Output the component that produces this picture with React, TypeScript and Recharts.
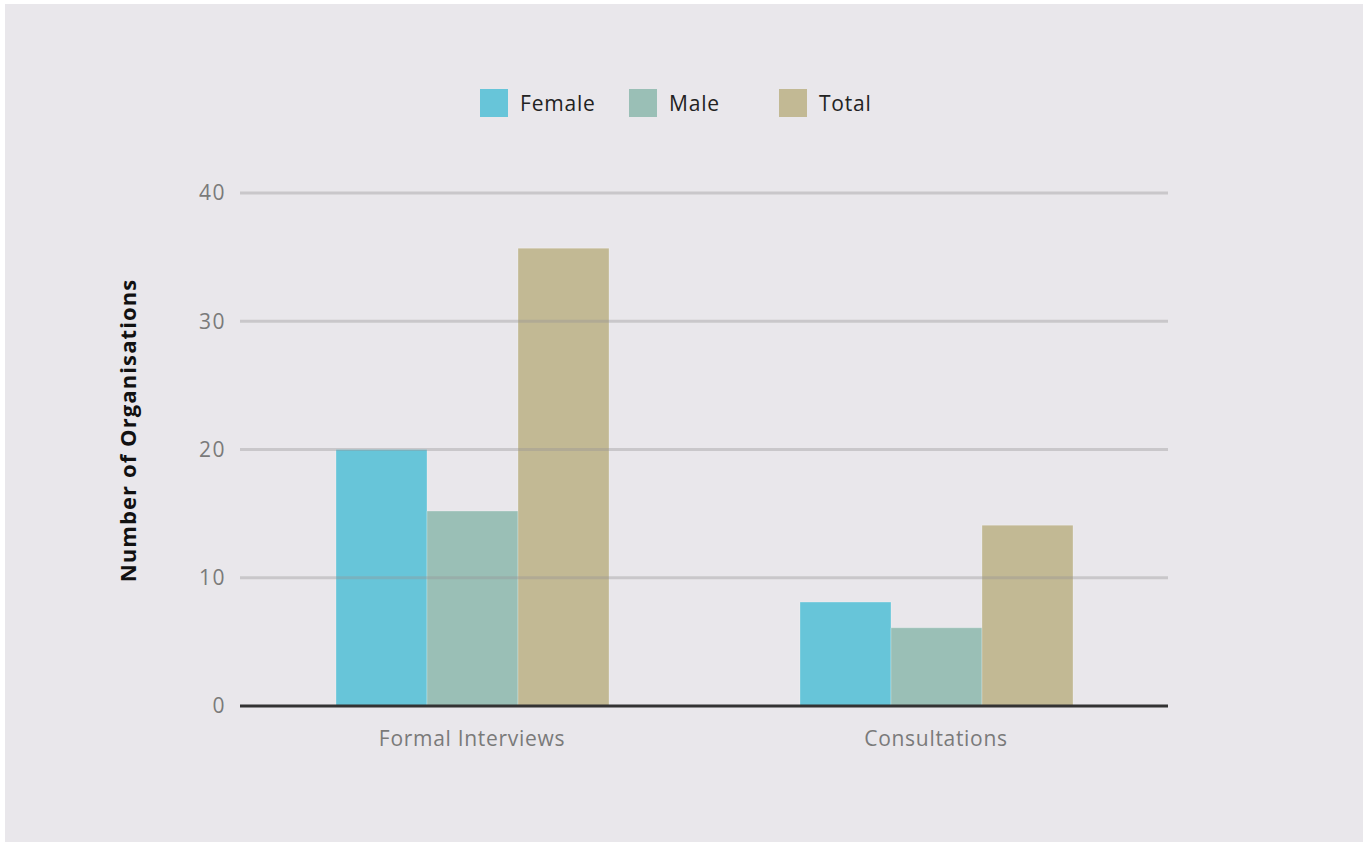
import { BarChart, Bar, XAxis, YAxis, ReferenceLine, Legend } from 'recharts';

const categories = ['Formal Interviews', 'Consultations'];
const female = [20, 8.1];
const male = [15.2, 6.1];
const total = [35.7, 14.1];
const yTicks = [0, 10, 20, 30, 40];
const gridLines = [10, 20, 30, 40];

const series = [
  { key: 'female', name: 'Female', color: '#67c5d9' },
  { key: 'male', name: 'Male', color: '#9abfb6' },
  { key: 'total', name: 'Total', color: '#c2b994' },
];

// legend slots, left edge of each swatch measured from the chart's left
const legendX = [480, 629, 779];

const data = categories.map((name, i) => ({
  name,
  female: female[i],
  male: male[i],
  total: total[i],
}));

function LegendContent() {
  return (
    <div style={{ position: 'relative', height: 28 }}>
      {series.map((s, i) => (
        <div
          key={s.key}
          style={{
            position: 'absolute',
            left: legendX[i],
            top: 0,
            display: 'flex',
            alignItems: 'center',
            gap: 12,
            whiteSpace: 'nowrap',
          }}
        >
          <span style={{ display: 'inline-block', width: 28, height: 28, background: s.color }} />
          <span style={{ fontSize: 21, color: '#222', letterSpacing: 0.8 }}>{s.name}</span>
        </div>
      ))}
    </div>
  );
}

export default function App() {
  return (
    <div
      style={{
        position: 'absolute',
        left: 0,
        top: 0,
        width: 1368,
        height: 842,
        background: '#ffffff',
        fontFamily: '"Open Sans", "Noto Sans", sans-serif',
        overflow: 'hidden',
      }}
    >
      <div
        style={{
          position: 'absolute',
          left: 5,
          top: 4,
          width: 1358,
          height: 845,
          background: '#e9e7eb',
        }}
      />
      <div style={{ position: 'absolute', left: 0, top: 0 }}>
        <BarChart
          width={1368}
          height={842}
          data={data}
          margin={{ top: 165, right: 200, bottom: 96, left: 180 }}
          barCategoryGap={96}
          barGap={0}
        >
          <XAxis
            dataKey="name"
            axisLine={{ stroke: '#333333', strokeWidth: 3 }}
            tickLine={false}
            tick={{ fontSize: 21, fill: '#7a7a7a', letterSpacing: 0.7 }}
            tickMargin={19}
            height={40}
          />
          <YAxis
            domain={[0, 40]}
            ticks={yTicks}
            axisLine={false}
            tickLine={false}
            tick={{ fontSize: 21, fill: '#7a7a7a', letterSpacing: 1.5 }}
            tickMargin={8}
            width={60}
            label={{
              value: 'Number of Organisations',
              angle: -90,
              position: 'insideLeft',
              offset: 0,
              dx: -52,
              dy: -19,
              style: {
                fontSize: 22,
                fontWeight: 700,
                fill: '#111111',
                textAnchor: 'middle',
                letterSpacing: 1.1,
              },
            }}
          />
          <Legend
            verticalAlign="top"
            align="left"
            wrapperStyle={{ top: 89, left: 0, width: 1368 }}
            content={<LegendContent />}
          />
          {series.map((s) => (
            <Bar
              key={s.key}
              dataKey={s.key}
              name={s.name}
              fill={s.color}
              stroke="rgba(255,255,255,0.25)"
              strokeWidth={1}
              isAnimationActive={false}
            />
          ))}
          {gridLines.map((v) => (
            <ReferenceLine key={v} y={v} stroke="rgba(150,148,150,0.38)" strokeWidth={3} />
          ))}
        </BarChart>
      </div>
    </div>
  );
}
